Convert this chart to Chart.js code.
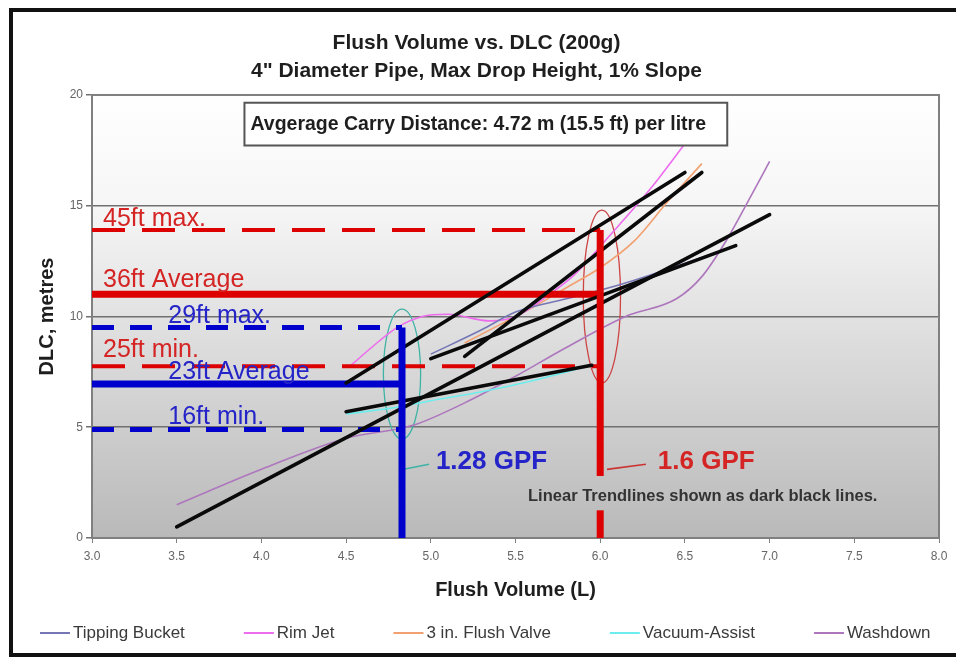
<!DOCTYPE html>
<html>
<head>
<meta charset="utf-8">
<title>Flush Volume vs. DLC</title>
<script src="https://cdn.jsdelivr.net/npm/chart.js@4.4.1/dist/chart.umd.min.js"></script>
<style>
  html, body { margin: 0; padding: 0; background: #fff; }
  canvas { display: block; }
</style>
</head>
<body>
<canvas id="dlcChart" width="956" height="657"></canvas>
<script>
// axis ranges
const xMin = 3.0, xMax = 8.0, xStep = 0.5;
const yMin = 0, yMax = 20, yStep = 5;

const tippingBucketL = [5.0, 5.3, 5.5, 5.8, 6.1, 6.5, 6.8];
const tippingBucketDLC = [8.3, 9.4, 10.2, 10.8, 11.4, 12.4, 13.2];
const rimJetL = [4.53, 4.65, 4.8, 4.95, 5.1, 5.35, 5.5, 5.7, 5.85, 6.05, 6.3, 6.5];
const rimJetDLC = [7.8, 8.6, 9.5, 10.0, 10.1, 9.8, 10.0, 11.0, 11.9, 13.6, 15.8, 17.8];
const flushValveL = [5.2, 5.4, 5.6, 5.8, 6.0, 6.2, 6.4, 6.6];
const flushValveDLC = [8.8, 9.6, 10.4, 11.3, 12.2, 13.4, 15.2, 16.9];
const vacuumL = [4.5, 4.8, 5.0, 5.3, 5.6, 5.95];
const vacuumDLC = [5.6, 5.9, 6.2, 6.6, 7.1, 7.8];
const washdownL = [3.5, 4.0, 4.5, 4.9, 5.2, 5.5, 5.8, 6.15, 6.45, 6.6, 6.75, 6.88, 7.0];
const washdownDLC = [1.5, 3.1, 4.5, 5.1, 6.1, 7.3, 8.6, 10.0, 10.8, 11.8, 13.5, 15.3, 17.0];

// linear trendlines (end points)
const tippingBucketTrendL = [5.0, 6.8];
const tippingBucketTrendDLC = [8.1, 13.2];
const rimJetTrendL = [4.5, 6.5];
const rimJetTrendDLC = [7.0, 16.5];
const flushValveTrendL = [5.2, 6.6];
const flushValveTrendDLC = [8.2, 16.5];
const vacuumTrendL = [4.5, 5.95];
const vacuumTrendDLC = [5.7, 7.8];
const washdownTrendL = [3.5, 7.0];
const washdownTrendDLC = [0.5, 14.6];

const curveNames = ['Tipping Bucket', 'Rim Jet', '3 in. Flush Valve', 'Vacuum-Assist', 'Washdown'];

// reference levels: max, average, min
const redLevelDLC = [13.9, 11.0, 7.75];
const redLevelText = ['45ft max.', '36ft Average', '25ft min.'];
const blueLevelDLC = [9.5, 6.95, 4.9];
const blueLevelText = ['29ft max.', '23ft Average', '16ft min.'];
const gpfVolumeL = [4.83, 6.0];
const gpfText = ['1.28 GPF', '1.6 GPF'];

const titleLines = ['Flush Volume vs. DLC (200g)', '4" Diameter Pipe, Max Drop Height, 1% Slope'];
const carryText = 'Avgerage Carry Distance: 4.72 m (15.5 ft) per litre';
const trendNote = 'Linear Trendlines shown as dark black lines.';

// styles
const FONT = '"Liberation Sans", Arial, Helvetica, sans-serif';
const curveColors = ['#7676b6', '#ee6cee', '#f2a070', '#6ceeee', '#ad76bd'];
const RED = '#dd0000', RED_TEXT = '#d42424';
const BLUE = '#0000cc', BLUE_TEXT = '#2424c8';

const toPoints = (xs, ys) => xs.map((x, i) => ({ x: x, y: ys[i] }));

const curveL = [tippingBucketL, rimJetL, flushValveL, vacuumL, washdownL];
const curveDLC = [tippingBucketDLC, rimJetDLC, flushValveDLC, vacuumDLC, washdownDLC];
const trendL = [tippingBucketTrendL, rimJetTrendL, flushValveTrendL, vacuumTrendL, washdownTrendL];
const trendDLC = [tippingBucketTrendDLC, rimJetTrendDLC, flushValveTrendDLC, vacuumTrendDLC, washdownTrendDLC];

const curveDatasets = curveNames.map((name, i) => ({
    label: name,
    data: toPoints(curveL[i], curveDLC[i]),
    borderColor: curveColors[i],
    borderWidth: 1.6,
    showLine: true,
    pointRadius: 0,
    cubicInterpolationMode: 'monotone'
}));

const trendDatasets = curveNames.map((name, i) => ({
    label: name + ' trend',
    data: toPoints(trendL[i], trendDLC[i]),
    borderColor: '#0a0a0a',
    borderWidth: 3.6,
    borderCapStyle: 'round',
    showLine: true,
    pointRadius: 0
}));

function levelLine(level, xEnd, color, i) {
    return {
        label: 'level',
        data: toPoints([xMin, xEnd], [level, level]),
        borderColor: color,
        borderWidth: i === 1 ? 7 : (color === BLUE ? 5 : 4),
        borderDash: i === 1 ? [] : (color === BLUE ? [22, 16] : [33, 17]),
        borderCapStyle: 'butt',
        showLine: true,
        pointRadius: 0
    };
}

const levelDatasets = [
    ...redLevelDLC.map((lvl, i) => levelLine(lvl, gpfVolumeL[1], RED, i)),
    ...blueLevelDLC.map((lvl, i) => levelLine(lvl, gpfVolumeL[0], BLUE, i))
];

const gpfDatasets = [
    { label: 'gpf', data: toPoints([gpfVolumeL[1], gpfVolumeL[1]], [redLevelDLC[0], yMin]),
      borderColor: RED, borderWidth: 7, showLine: true, pointRadius: 0 },
    { label: 'gpf', data: toPoints([gpfVolumeL[0], gpfVolumeL[0]], [blueLevelDLC[0], yMin]),
      borderColor: BLUE, borderWidth: 7, showLine: true, pointRadius: 0 }
];

// overlay positions in data units
const notes = {
    blueEllipse: { x: 4.83, y: 7.4, rx: 0.11, ry: 2.93, color: '#3fb3a6' },
    redEllipse: { x: 6.01, y: 10.9, rx: 0.11, ry: 3.9, color: '#cc4444' },
    redLabelX: 3.065, redLift: [4, 7, 9],
    blueLabelX: 3.45, blueLift: [5, 5, 5],
    gpfLabelX: [5.03, 6.34], gpfLabelY: 3.42,
    connectors: [
        { from: [4.84, 3.1], to: [4.99, 3.33], color: '#3fb3a6' },
        { from: [6.04, 3.1], to: [6.27, 3.33], color: '#cc3333' }
    ],
    note: { x: 5.574, y: 1.89, gapTop: 2.8, gapBottom: 1.25 },
    carryBox: { x0: 3.9, x1: 6.75, y0: 19.65, y1: 17.72 }
};

const overlay = {
    id: 'overlay',
    beforeDraw(chart) {
        const { ctx, chartArea: a } = chart;
        ctx.save();
        ctx.fillStyle = '#fff';
        ctx.fillRect(0, 0, chart.width, chart.height);
        ctx.strokeStyle = '#111';
        ctx.lineWidth = 4;
        ctx.strokeRect(11, 10, 960, 645);
        const g = ctx.createLinearGradient(0, a.top, 0, a.bottom);
        g.addColorStop(0, '#ffffff');
        g.addColorStop(0.25, '#f6f6f6');
        g.addColorStop(1, '#b9b9b9');
        chart.$plotFill = g;
        ctx.fillStyle = g;
        ctx.fillRect(a.left, a.top, a.width, a.height);
        ctx.restore();
    },
    beforeDatasetsDraw(chart) {
        const { ctx, chartArea: a, scales: { x, y } } = chart;
        ctx.save();
        ctx.strokeStyle = '#808080';
        ctx.lineWidth = 2;
        ctx.strokeRect(a.left, a.top, a.width, a.height);
        [notes.blueEllipse, notes.redEllipse].forEach(e => {
            const cx = x.getPixelForValue(e.x), cy = y.getPixelForValue(e.y);
            const rx = x.getPixelForValue(e.x + e.rx) - cx;
            const ry = cy - y.getPixelForValue(e.y + e.ry);
            ctx.beginPath();
            ctx.ellipse(cx, cy, rx, ry, 0, 0, Math.PI * 2);
            ctx.strokeStyle = e.color;
            ctx.lineWidth = 1.3;
            ctx.stroke();
        });
        notes.connectors.forEach(c => {
            ctx.beginPath();
            ctx.moveTo(x.getPixelForValue(c.from[0]), y.getPixelForValue(c.from[1]));
            ctx.lineTo(x.getPixelForValue(c.to[0]), y.getPixelForValue(c.to[1]));
            ctx.strokeStyle = c.color;
            ctx.lineWidth = 1.6;
            ctx.stroke();
        });
        ctx.restore();
    },
    afterDatasetsDraw(chart) {
        const { ctx, scales: { x, y } } = chart;
        ctx.save();
        ctx.textBaseline = 'alphabetic';
        ctx.textAlign = 'left';
        ctx.font = '25px ' + FONT;
        ctx.fillStyle = RED_TEXT;
        redLevelText.forEach((t, i) => {
            ctx.fillText(t, x.getPixelForValue(notes.redLabelX), y.getPixelForValue(redLevelDLC[i]) - notes.redLift[i]);
        });
        ctx.fillStyle = BLUE_TEXT;
        blueLevelText.forEach((t, i) => {
            ctx.fillText(t, x.getPixelForValue(notes.blueLabelX), y.getPixelForValue(blueLevelDLC[i]) - notes.blueLift[i]);
        });

        // GPF labels
        ctx.textBaseline = 'middle';
        ctx.font = 'bold 26px ' + FONT;
        ctx.fillStyle = BLUE_TEXT;
        ctx.fillText(gpfText[0], x.getPixelForValue(notes.gpfLabelX[0]), y.getPixelForValue(notes.gpfLabelY));
        ctx.fillStyle = RED_TEXT;
        ctx.fillText(gpfText[1], x.getPixelForValue(notes.gpfLabelX[1]), y.getPixelForValue(notes.gpfLabelY));

        // trendline note, with a patch of plot fill behind it
        ctx.font = 'bold 16.5px ' + FONT;
        const nx = x.getPixelForValue(notes.note.x);
        const nw = ctx.measureText(trendNote).width;
        const gTop = y.getPixelForValue(notes.note.gapTop);
        const gBot = y.getPixelForValue(notes.note.gapBottom);
        ctx.fillStyle = chart.$plotFill;
        ctx.fillRect(nx - 4, gTop, nw + 8, gBot - gTop);
        ctx.fillStyle = '#333';
        ctx.fillText(trendNote, nx, y.getPixelForValue(notes.note.y));

        // carry distance box
        const b = notes.carryBox;
        const bx0 = x.getPixelForValue(b.x0), bx1 = x.getPixelForValue(b.x1);
        const by0 = y.getPixelForValue(b.y0), by1 = y.getPixelForValue(b.y1);
        ctx.fillStyle = '#fff';
        ctx.fillRect(bx0, by0, bx1 - bx0, by1 - by0);
        ctx.strokeStyle = '#555';
        ctx.lineWidth = 2;
        ctx.strokeRect(bx0, by0, bx1 - bx0, by1 - by0);
        ctx.font = 'bold 19.5px ' + FONT;
        ctx.fillStyle = '#1e1e1e';
        ctx.fillText(carryText, bx0 + 6, (by0 + by1) / 2 + 1);
        ctx.restore();
    },
    afterDraw(chart) {
        // legend row for the measured curves
        const { ctx } = chart;
        ctx.save();
        ctx.font = '17px ' + FONT;
        ctx.textBaseline = 'middle';
        let lx = 40;
        const ly = 633;
        curveDatasets.forEach(ds => {
            ctx.fillStyle = ds.borderColor;
            ctx.fillRect(lx, ly - 1, 30, 2);
            ctx.fillStyle = '#3a3a3a';
            ctx.fillText(ds.label, lx + 33, ly);
            lx += 33 + ctx.measureText(ds.label).width + 59;
        });
        ctx.restore();
    }
};

new Chart(document.getElementById('dlcChart'), {
    type: 'scatter',
    data: {
        datasets: [...gpfDatasets, ...trendDatasets, ...levelDatasets, ...curveDatasets]
    },
    options: {
        responsive: false,
        animation: false,
        events: [],
        devicePixelRatio: 1,
        layout: { padding: { left: 14, right: 17, top: 0, bottom: 49 } },
        plugins: {
            legend: { display: false },
            tooltip: { enabled: false },
            title: {
                display: true,
                text: titleLines,
                color: '#1e1e1e',
                font: { family: FONT, size: 21, weight: 'bold', lineHeight: 1.333 },
                padding: { top: 29, bottom: 10 }
            }
        },
        scales: {
            x: {
                type: 'linear',
                min: xMin,
                max: xMax,
                afterFit: s => { s.height = 70; },
                ticks: {
                    stepSize: xStep,
                    color: '#666',
                    padding: 6,
                    font: { family: FONT, size: 12 },
                    callback: v => v.toFixed(1)
                },
                grid: { drawOnChartArea: false, drawTicks: true, tickLength: 5, color: '#808080' },
                border: { display: true, color: '#808080', width: 2 },
                title: {
                    display: true,
                    text: 'Flush Volume (L)',
                    color: '#1e1e1e',
                    font: { family: FONT, size: 20, weight: 'bold' },
                    padding: { top: 0, bottom: 6 }
                }
            },
            y: {
                type: 'linear',
                min: yMin,
                max: yMax,
                afterFit: s => { s.width = 78; },
                ticks: {
                    stepSize: yStep,
                    color: '#666',
                    padding: 3,
                    font: { family: FONT, size: 12 }
                },
                grid: { color: '#707070', lineWidth: 1.5, tickLength: 6 },
                border: { display: true, color: '#808080', width: 2 },
                title: {
                    display: true,
                    text: 'DLC, metres',
                    color: '#1e1e1e',
                    font: { family: FONT, size: 20, weight: 'bold' },
                    padding: { top: 21, bottom: 0 }
                }
            }
        }
    },
    plugins: [overlay]
});
</script>
</body>
</html>
